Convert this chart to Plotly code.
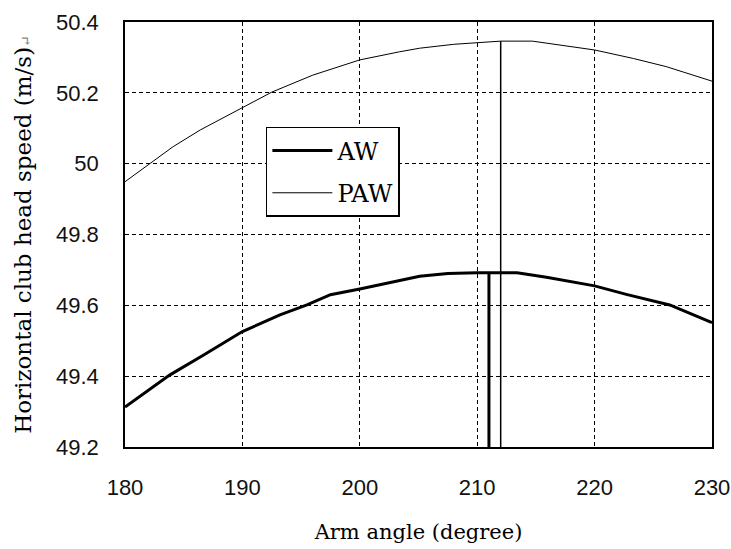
import plotly.graph_objects as go

# Data
angle_aw = [180, 183.8, 186.7, 190, 193.2, 195.5, 197.5, 200, 205.1, 207.5, 210, 213.4, 215.9, 220, 222.7, 226.4, 230]
speed_aw = [49.313, 49.403, 49.460, 49.526, 49.573, 49.601, 49.630, 49.646, 49.682, 49.690, 49.692, 49.692, 49.679, 49.655, 49.631, 49.601, 49.551]

angle_paw = [180, 182.1, 184.1, 186.4, 190, 192.5, 196, 200, 203.4, 205.1, 208, 210, 212, 214.7, 220, 223.3, 226.1, 230]
speed_paw = [49.949, 50.0, 50.048, 50.095, 50.159, 50.202, 50.250, 50.293, 50.316, 50.326, 50.337, 50.342, 50.346, 50.346, 50.321, 50.297, 50.274, 50.233]

peak_angle_aw = 211
peak_speed_aw = 49.692
peak_angle_paw = 212
peak_speed_paw = 50.346

y_min, y_max = 49.2, 50.4
x_min, x_max = 180, 230

x_ticks = [180, 190, 200, 210, 220, 230]
y_ticks = [49.2, 49.4, 49.6, 49.8, 50.0, 50.2, 50.4]
y_tick_labels = ["49.2", "49.4", "49.6", "49.8", "50", "50.2", "50.4"]

fig = go.Figure()
fig.add_trace(go.Scatter(x=angle_aw, y=speed_aw, mode="lines", name="AW",
                         line=dict(color="black", width=3), legendgroup="a"))
fig.add_trace(go.Scatter(x=angle_paw, y=speed_paw, mode="lines", name="PAW",
                         line=dict(color="black", width=1), legendgroup="b"))
fig.add_trace(go.Scatter(x=[peak_angle_aw, peak_angle_aw], y=[y_min, peak_speed_aw], mode="lines",
                         line=dict(color="black", width=3), showlegend=False))
fig.add_trace(go.Scatter(x=[peak_angle_paw, peak_angle_paw], y=[y_min, peak_speed_paw], mode="lines",
                         line=dict(color="black", width=1.5), showlegend=False))

fig.update_layout(
    width=731, height=549,
    margin=dict(l=125, r=19, t=22, b=102),
    paper_bgcolor="white", plot_bgcolor="white",
    showlegend=True,
    legend=dict(x=0.240, y=0.753, xanchor="left", yanchor="top",
                bgcolor="white", bordercolor="black", borderwidth=1.5,
                font=dict(family="DejaVu Serif", size=24, color="black"),
                itemwidth=60,
                tracegroupgap=8, traceorder="grouped"),
    xaxis=dict(range=[x_min, x_max], tickvals=x_ticks, showgrid=True, automargin=False,
               gridcolor="black", gridwidth=1, griddash="4px,3px",
               showline=True, linecolor="black", linewidth=1.5, mirror=True,
               ticks="", ticklabelstandoff=20, zeroline=False,
               tickfont=dict(family="Liberation Sans", size=22, color="#111111"),
               title=dict(text="Arm angle (degree)", standoff=25,
                          font=dict(family="DejaVu Serif", size=21, color="black"))),
    yaxis=dict(range=[y_min, y_max], tickvals=y_ticks, ticktext=y_tick_labels, showgrid=True, automargin=False,
               gridcolor="black", gridwidth=1, griddash="4px,3px",
               showline=True, linecolor="black", linewidth=1.5, mirror=True,
               ticks="", ticklabelstandoff=20, zeroline=False,
               tickfont=dict(family="Liberation Sans", size=22, color="#111111"),
               title=dict(text="Horizontal club head speed (m/s)<span style='color:#888888;font-size:14px'>↵</span>",
                          standoff=18,
                          font=dict(family="DejaVu Serif", size=23, color="black"))),
)

fig.write_html("out.html")
